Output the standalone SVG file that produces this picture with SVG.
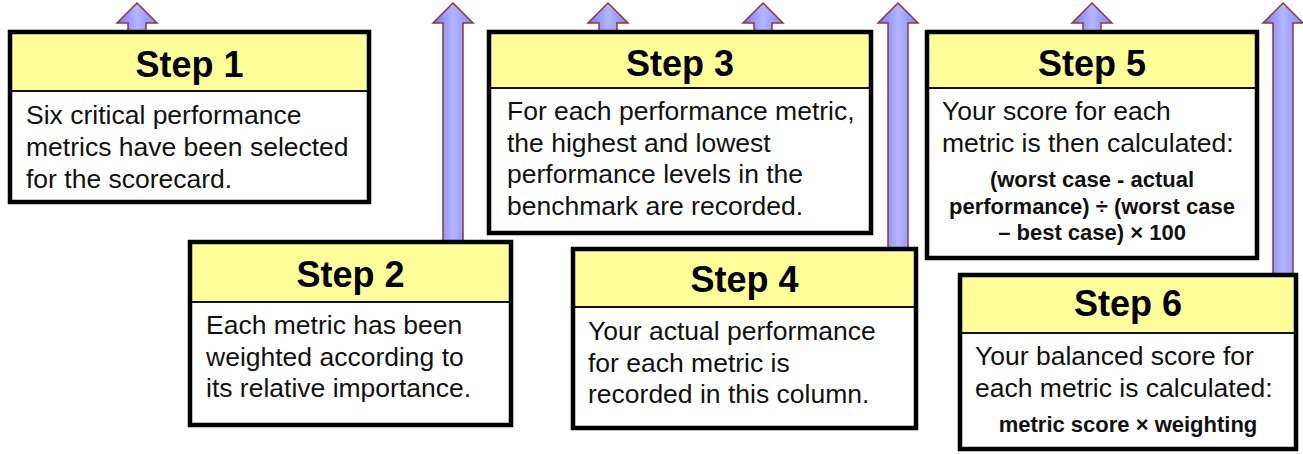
<svg xmlns="http://www.w3.org/2000/svg" width="1303" height="454" viewBox="0 0 1303 454">
  <defs>
    <linearGradient id="arrowFill" x1="0" y1="0" x2="1" y2="0">
      <stop offset="0" stop-color="#7474f4"/>
      <stop offset="0.5" stop-color="#b4b6ff"/>
      <stop offset="1" stop-color="#8484ff"/>
    </linearGradient>
  </defs>
  <style>
    .arrow { fill: url(#arrowFill); stroke: #8a3a3a; stroke-width: 1.5; stroke-linejoin: miter; }
    .hdr { fill: #ffff99; }
    .body { fill: #ffffff; }
    .frame { fill: none; stroke: #000; stroke-width: 4.5; }
    .div { stroke: #111; stroke-width: 2; }
    .title { font-family: "Liberation Sans", Arial, sans-serif; font-weight: bold; font-size: 36px; fill: #000; text-anchor: middle; }
    .txt { font-family: "Liberation Sans", Arial, sans-serif; font-size: 26.5px; fill: #111; }
    .formula { font-family: "Liberation Sans", Arial, sans-serif; font-weight: bold; font-size: 22px; fill: #111; text-anchor: middle; }
  </style>
  <rect width="1303" height="454" fill="#ffffff"/>

  <!-- upward arrows, drawn behind the boxes -->
  <g id="connectors">
    <polygon class="arrow" points="137,3 157,23 146,23 146,34 128,34 128,23 117,23"/>
    <polygon class="arrow" points="453,3 473,23 463,23 463,244 443,244 443,23 433,23"/>
    <polygon class="arrow" points="608,3 628,23 617,23 617,34 599,34 599,23 588,23"/>
    <polygon class="arrow" points="763,3 783,23 772,23 772,34 754,34 754,23 743,23"/>
    <polygon class="arrow" points="898,3 918,23 908,23 908,251 888,251 888,23 878,23"/>
    <polygon class="arrow" points="1092,3 1112,23 1101,23 1101,34 1083,34 1083,23 1072,23"/>
    <polygon class="arrow" points="1283,3 1303,23 1293,23 1293,277 1273,277 1273,23 1263,23"/>
  </g>

  <g id="step1">
    <rect class="body" x="10" y="32" width="359" height="170"/>
    <rect class="hdr" x="10" y="32" width="359" height="59"/>
    <line class="div" x1="10" y1="91" x2="369" y2="91"/>
    <rect class="frame" x="10" y="32" width="359" height="170"/>
    <text class="title" x="189.5" y="77">Step 1</text>
    <text class="txt" x="26" y="124">Six critical performance</text>
    <text class="txt" x="26" y="156">metrics have been selected</text>
    <text class="txt" x="26" y="188">for the scorecard.</text>
  </g>

  <g id="step2">
    <rect class="body" x="190" y="242" width="321" height="183"/>
    <rect class="hdr" x="190" y="242" width="321" height="60"/>
    <line class="div" x1="190" y1="302" x2="511" y2="302"/>
    <rect class="frame" x="190" y="242" width="321" height="183"/>
    <text class="title" x="350.5" y="287">Step 2</text>
    <text class="txt" x="206" y="334">Each metric has been</text>
    <text class="txt" x="206" y="366">weighted according to</text>
    <text class="txt" x="206" y="397">its relative importance.</text>
  </g>

  <g id="step3">
    <rect class="body" x="489" y="32" width="382" height="201"/>
    <rect class="hdr" x="489" y="32" width="382" height="56"/>
    <line class="div" x1="489" y1="88" x2="871" y2="88"/>
    <rect class="frame" x="489" y="32" width="382" height="201"/>
    <text class="title" x="680" y="76">Step 3</text>
    <text class="txt" x="507" y="120">For each performance metric,</text>
    <text class="txt" x="507" y="152">the highest and lowest</text>
    <text class="txt" x="507" y="183">performance levels in the</text>
    <text class="txt" x="507" y="215">benchmark are recorded.</text>
  </g>

  <g id="step4">
    <rect class="body" x="573" y="249" width="343" height="179"/>
    <rect class="hdr" x="573" y="249" width="343" height="58"/>
    <line class="div" x1="573" y1="307" x2="916" y2="307"/>
    <rect class="frame" x="573" y="249" width="343" height="179"/>
    <text class="title" x="744.5" y="292">Step 4</text>
    <text class="txt" x="588" y="340">Your actual performance</text>
    <text class="txt" x="588" y="372">for each metric is</text>
    <text class="txt" x="588" y="403">recorded in this column.</text>
  </g>

  <g id="step5">
    <rect class="body" x="927" y="32" width="330" height="226"/>
    <rect class="hdr" x="927" y="32" width="330" height="56"/>
    <line class="div" x1="927" y1="88" x2="1257" y2="88"/>
    <rect class="frame" x="927" y="32" width="330" height="226"/>
    <text class="title" x="1092" y="76">Step 5</text>
    <text class="txt" x="942" y="120">Your score for each</text>
    <text class="txt" x="942" y="152">metric is then calculated:</text>
    <text class="formula" x="1092" y="187">(worst case - actual</text>
    <text class="formula" x="1092" y="214">performance) ÷ (worst case</text>
    <text class="formula" x="1092" y="240">– best case) × 100</text>
  </g>

  <g id="step6">
    <rect class="body" x="960" y="275" width="336" height="174"/>
    <rect class="hdr" x="960" y="275" width="336" height="58"/>
    <line class="div" x1="960" y1="333" x2="1296" y2="333"/>
    <rect class="frame" x="960" y="275" width="336" height="174"/>
    <text class="title" x="1128" y="316">Step 6</text>
    <text class="txt" x="975" y="365">Your balanced score for</text>
    <text class="txt" x="975" y="397">each metric is calculated:</text>
    <text class="formula" x="1128" y="432">metric score × weighting</text>
  </g>
</svg>
